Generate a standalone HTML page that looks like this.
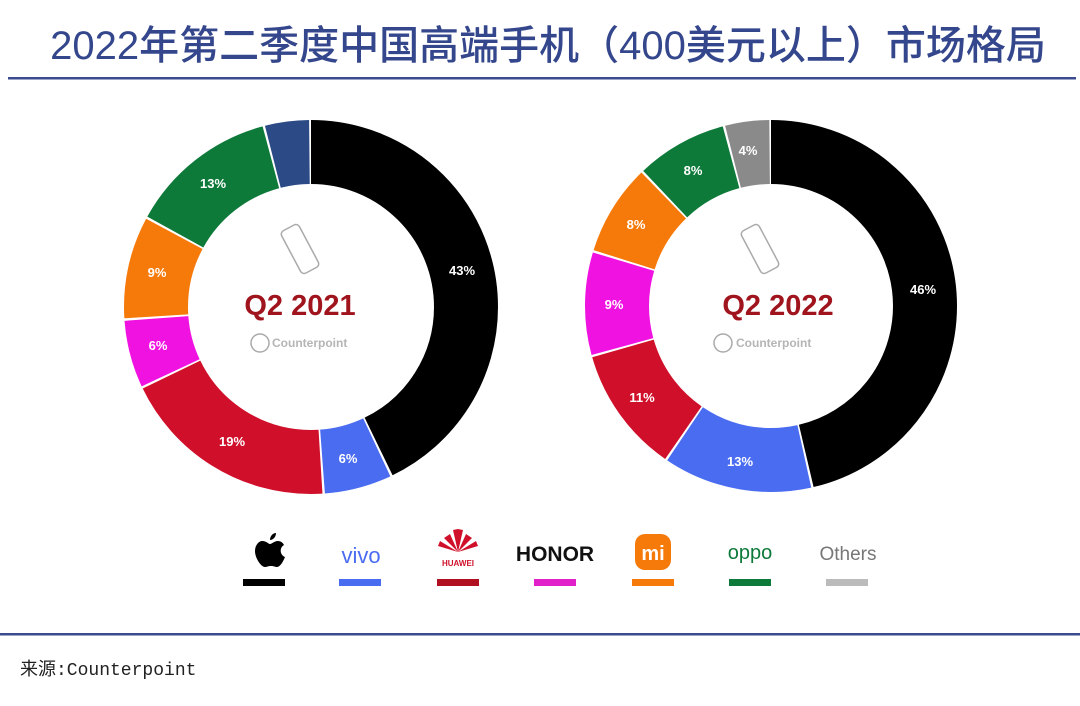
<!DOCTYPE html>
<html><head><meta charset="utf-8"><style>
body{margin:0;background:#fff;width:1080px;height:701px;overflow:hidden;font-family:"Liberation Sans","Noto Sans CJK SC",sans-serif}
</style></head><body>
<svg width="1080" height="701" xmlns="http://www.w3.org/2000/svg" font-family="Liberation Sans, Noto Sans CJK SC, sans-serif">
<rect width="1080" height="701" fill="#fff"/>
<text x="548" y="59" text-anchor="middle" font-size="40" font-weight="500" fill="#34468c" font-family="Liberation Sans, Noto Sans CJK SC, sans-serif">2022年第二季度中国高端手机（400美元以上）市场格局</text>
<rect x="8" y="77" width="1068" height="2.5" fill="#3b4b8f"/>
<rect x="0" y="633" width="1080" height="2.5" fill="#3b4b8f"/>
<text x="20" y="675" font-size="18" fill="#222" font-family="Liberation Mono, Noto Sans CJK SC, monospace">来源:Counterpoint</text>

<g transform="rotate(-90 311 307)" fill="none" stroke-width="64">
<circle cx="311" cy="307" r="155" stroke="#000" stroke-dasharray="416.8 2000" stroke-dashoffset="0"/>
<circle cx="311" cy="307" r="155" stroke="#4a6cf0" stroke-dasharray="56.4 2000" stroke-dashoffset="-418.8"/>
<circle cx="311" cy="307" r="155" stroke="#d0102a" stroke-dasharray="183 2000" stroke-dashoffset="-477.2"/>
<circle cx="311" cy="307" r="155" stroke="#f012e0" stroke-dasharray="56.4 2000" stroke-dashoffset="-662.2"/>
<circle cx="311" cy="307" r="155" stroke="#f57a0a" stroke-dasharray="85.6 2000" stroke-dashoffset="-720.7"/>
<circle cx="311" cy="307" r="155" stroke="#0e7a3a" stroke-dasharray="124.6 2000" stroke-dashoffset="-808.3"/>
<circle cx="311" cy="307" r="155" stroke="#2b4a86" stroke-dasharray="37 2000" stroke-dashoffset="-934.9"/>
</g>
<g transform="rotate(-90 771 306)" fill="none" stroke-width="64">
<circle cx="771" cy="306" r="154" stroke="#000" stroke-dasharray="448 2000" stroke-dashoffset="0"/>
<circle cx="771" cy="306" r="154" stroke="#4a6cf0" stroke-dasharray="124.8 2000" stroke-dashoffset="-450"/>
<circle cx="771" cy="306" r="154" stroke="#d0102a" stroke-dasharray="105.6 2000" stroke-dashoffset="-576.8"/>
<circle cx="771" cy="306" r="154" stroke="#f012e0" stroke-dasharray="86 2000" stroke-dashoffset="-684.4"/>
<circle cx="771" cy="306" r="154" stroke="#f57a0a" stroke-dasharray="76.2 2000" stroke-dashoffset="-772.4"/>
<circle cx="771" cy="306" r="154" stroke="#0e7a3a" stroke-dasharray="76.2 2000" stroke-dashoffset="-850.6"/>
<circle cx="771" cy="306" r="154" stroke="#8a8a8a" stroke-dasharray="37 2000" stroke-dashoffset="-928.8"/>
</g>

<g font-size="13" font-weight="bold" fill="#fff" text-anchor="middle">
<text x="462" y="275">43%</text><text x="348" y="463">6%</text><text x="232" y="446">19%</text>
<text x="158" y="350">6%</text><text x="157" y="277">9%</text><text x="213" y="188">13%</text>
<text x="923" y="294">46%</text><text x="740" y="466">13%</text><text x="642" y="402">11%</text>
<text x="614" y="309">9%</text><text x="636" y="229">8%</text><text x="693" y="175">8%</text><text x="748" y="155">4%</text>
</g>

<g fill="none" stroke="#aaa" stroke-width="1.5">
<rect x="290" y="225" width="20" height="48" rx="4" transform="rotate(-28 300 249)"/>
<rect x="750" y="225" width="20" height="48" rx="4" transform="rotate(-28 760 249)"/>
<circle cx="260" cy="343" r="9"/><circle cx="723" cy="343" r="9"/>
</g>
<g font-size="29" font-weight="bold" fill="#a0141e" text-anchor="middle">
<text x="300" y="315">Q2 2021</text><text x="778" y="315">Q2 2022</text>
</g>
<g font-size="12" font-weight="bold" fill="#b5b5b5">
<text x="272" y="347">Counterpoint</text><text x="736" y="347">Counterpoint</text>
</g>

<path d="M262 541c5 0 6 3 8 3s4-3 8-3c3 0 5 2 6 4-5 3-4 10 1 12-2 5-5 10-8 10-2 0-3-1-6-1s-4 1-6 1c-4 0-10-9-10-16 0-6 4-10 7-10zM270 540c0-4 3-7 6-7 0 4-3 7-6 7z" fill="#000"/>
<rect x="243" y="579" width="42" height="7" fill="#000"/>
<text x="361" y="563" text-anchor="middle" font-size="22" fill="#4a6cf0">vivo</text>
<rect x="339" y="579" width="42" height="7" fill="#4a6cf0"/>
<g fill="#d0102a"><path d="M458 552l-14-14 6-4z"/><path d="M458 552l14-14-6-4z"/><path d="M458 552l-5-22 5-1z"/><path d="M458 552l5-22-5-1z"/><path d="M458 552l-20-6 2-5z"/><path d="M458 552l20-6-2-5z"/></g>
<text x="458" y="566" text-anchor="middle" font-size="8" font-weight="bold" fill="#d0102a">HUAWEI</text>
<rect x="437" y="579" width="42" height="7" fill="#b01020"/>
<text x="555" y="561" text-anchor="middle" font-size="21" font-weight="bold" fill="#111">HONOR</text>
<rect x="534" y="579" width="42" height="7" fill="#e020c8"/>
<rect x="635" y="534" width="36" height="36" rx="10" fill="#f57a0a"/>
<text x="653" y="560" text-anchor="middle" font-size="20" font-weight="bold" fill="#fff">mi</text>
<rect x="632" y="579" width="42" height="7" fill="#f57a0a"/>
<text x="750" y="559" text-anchor="middle" font-size="20" fill="#0e7a3a">oppo</text>
<rect x="729" y="579" width="42" height="7" fill="#0e7a3a"/>
<text x="848" y="560" text-anchor="middle" font-size="19" fill="#777">Others</text>
<rect x="826" y="579" width="42" height="7" fill="#bbb"/>
</svg>
</body></html>
